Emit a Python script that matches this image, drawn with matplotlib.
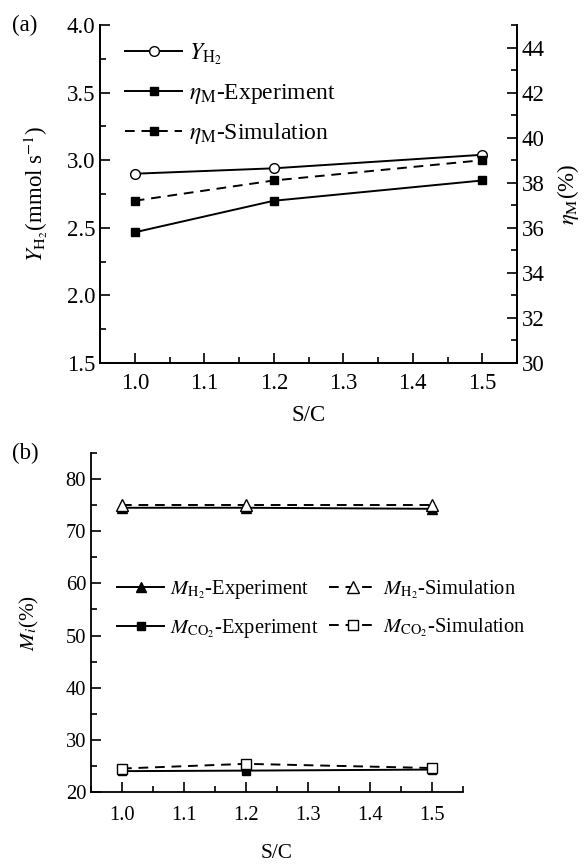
import matplotlib
matplotlib.use("Agg")
import matplotlib.pyplot as plt
from matplotlib.ticker import MultipleLocator, FormatStrFormatter

plt.rcParams['font.family'] = ['Liberation Serif', 'DejaVu Serif']
plt.rcParams['mathtext.fontset'] = 'stix'
plt.rcParams['font.size'] = 16

# Data
sc = [1.0, 1.2, 1.5]
y_h2 = [2.90, 2.94, 3.04]
eta_exp = [35.8, 37.2, 38.1]
eta_sim = [37.2, 38.1, 39.0]

mh2_exp = [74.5, 74.5, 74.3]
mh2_sim = [75.0, 75.0, 75.0]
mco2_exp = [24.0, 24.1, 24.3]
mco2_sim = [24.5, 25.4, 24.6]

W, H = 587, 864
FA = 16.5   # panel (a) text size
FB = 14.8   # panel (b) text size
fig = plt.figure(figsize=(W / 100, H / 100), dpi=100)

def frac(x0, y0, x1, y1):
    return [x0 / W, 1 - y1 / H, (x1 - x0) / W, (y1 - y0) / H]

lw = 1.4
dash = (0, (5, 3.5))

def style_ax(ax, fs):
    ax.tick_params(which='both', direction='in', width=1.2, labelsize=fs)
    ax.tick_params(which='major', length=7)
    ax.tick_params(which='minor', length=4)
    for s in ax.spines.values():
        s.set_linewidth(1.3)

# ---------- (a)
ax1 = fig.add_axes(frac(100, 25, 517, 363))
ax2 = ax1.twinx()
l1, = ax1.plot(sc, y_h2, '-', color='black', lw=lw, marker='o', ms=7,
               mfc='white', mec='black', mew=1.0)
l2, = ax2.plot(sc, eta_exp, '-', color='black', lw=lw, marker='s', ms=6,
               mfc='black', mec='black')
l3, = ax2.plot(sc, eta_sim, color='black', lw=lw, ls=dash, marker='s', ms=6,
               mfc='black', mec='black')
ax1.set_xlim(0.95, 1.55)
ax1.set_ylim(1.5, 4.0)
ax2.set_ylim(30, 45)
ax1.xaxis.set_major_locator(MultipleLocator(0.1))
ax1.xaxis.set_minor_locator(MultipleLocator(0.05))
ax1.yaxis.set_major_locator(MultipleLocator(0.5))
ax1.yaxis.set_minor_locator(MultipleLocator(0.25))
ax2.yaxis.set_major_locator(MultipleLocator(2))
ax2.yaxis.set_minor_locator(MultipleLocator(1))
ax1.xaxis.set_major_formatter(FormatStrFormatter('%.1f'))
ax1.yaxis.set_major_formatter(FormatStrFormatter('%.1f'))
for ax in (ax1, ax2):
    style_ax(ax, FA)
    ax.spines['top'].set_visible(False)
ax1.tick_params(axis='x', pad=7)
ax1.set_xlabel('S/C', fontsize=FA, labelpad=8)
ax1.set_ylabel(r'$Y_{\mathrm{H_2}}$(mmol s$^{-1}$)', fontsize=FA, labelpad=12)
ax2.set_ylabel(r'$\eta_{\mathrm{M}}$(%)', fontsize=FA, labelpad=7)
ax1.legend([l1, l2, l3],
           [r'$Y_{\mathrm{H_2}}$', r'$\eta_{\mathrm{M}}$-Experiment',
            r'$\eta_{\mathrm{M}}$-Simulation'],
           loc='upper left', bbox_to_anchor=(0.01, 1.015), frameon=False,
           handlelength=2.4, handletextpad=0.3, labelspacing=0.65,
           fontsize=17)
fig.text(25 / W, 1 - 25 / H, '(a)', fontsize=FA, ha='center', va='center')

# ---------- (b)
ax3 = fig.add_axes(frac(91, 453, 463, 792))
h1, = ax3.plot(sc, mh2_exp, '-', color='black', lw=lw, marker='^', ms=7,
               mfc='black', mec='black')
h2, = ax3.plot(sc, mh2_sim, color='black', lw=lw, ls=dash, marker='^', ms=8,
               mfc='white', mec='black', mew=1.0)
h3, = ax3.plot(sc, mco2_exp, '-', color='black', lw=lw, marker='s', ms=6,
               mfc='black', mec='black')
h4, = ax3.plot(sc, mco2_sim, color='black', lw=lw, ls=dash, marker='s', ms=7,
               mfc='white', mec='black', mew=1.0)
ax3.set_xlim(0.95, 1.55)
ax3.set_ylim(20, 85)
ax3.xaxis.set_major_locator(MultipleLocator(0.1))
ax3.xaxis.set_minor_locator(MultipleLocator(0.05))
ax3.yaxis.set_minor_locator(MultipleLocator(5))
ax3.set_yticks([20, 30, 40, 50, 60, 70, 80])
ax3.xaxis.set_major_formatter(FormatStrFormatter('%.1f'))
style_ax(ax3, FB)
ax3.spines['top'].set_visible(False)
ax3.spines['right'].set_visible(False)
ax3.tick_params(axis='x', pad=10)
ax3.set_xlabel('S/C', fontsize=FB + 0.5, labelpad=14)
ax3.set_ylabel(r'$M_i$(%)', fontsize=FB + 0.5, labelpad=18)
ax3.legend([h1, h3, h2, h4],
           [r'$M_{\mathrm{H_2}}$-Experiment', r'$M_{\mathrm{CO_2}}$-Experiment',
            r'$M_{\mathrm{H_2}}$-Simulation', r'$M_{\mathrm{CO_2}}$-Simulation'],
           ncol=2, loc='upper left', bbox_to_anchor=(0.02, 0.685),
           frameon=False, handlelength=2.3, handletextpad=0.3,
           columnspacing=0.5, labelspacing=0.75, fontsize=FB)
fig.text(25 / W, 1 - 453 / H, '(b)', fontsize=FA, ha='center', va='center')

fig.savefig('out.png', dpi=100)
